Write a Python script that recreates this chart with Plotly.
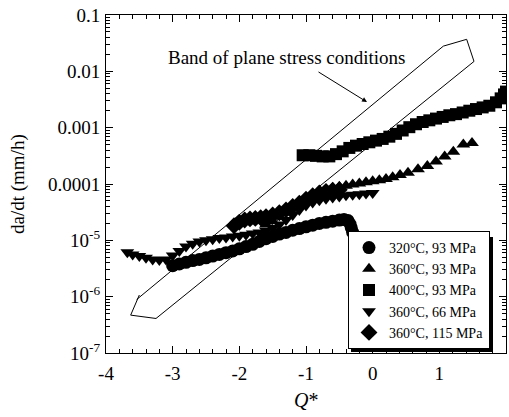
import plotly.graph_objects as go

# ---------------- data ----------------
q_320_93 = [-3.0, -2.9, -2.8, -2.7, -2.6, -2.5, -2.4, -2.3, -2.2, -2.1, -2.0, -1.9, -1.8, -1.7,
            -1.6, -1.5, -1.4, -1.3, -1.2, -1.1, -1.0, -0.9, -0.8, -0.7, -0.6, -0.5, -0.43,
            -0.37, -0.34, -0.32, -0.30]
r_320_93 = [3.55e-6, 3.80e-6, 4.07e-6, 4.37e-6, 4.57e-6, 4.90e-6, 5.25e-6, 5.62e-6, 6.03e-6,
            6.46e-6, 7.08e-6, 7.76e-6, 8.51e-6, 9.55e-6, 1.07e-5, 1.17e-5, 1.29e-5, 1.38e-5,
            1.51e-5, 1.62e-5, 1.74e-5, 1.86e-5, 2.00e-5, 2.09e-5, 2.19e-5, 2.29e-5, 2.34e-5,
            2.24e-5, 1.95e-5, 1.66e-5, 1.38e-5]

q_360_93 = [-1.6, -1.5, -1.4, -1.3, -1.2, -1.1, -1.0, -0.9, -0.8, -0.7, -0.6, -0.5, -0.4, -0.3,
            -0.2, -0.1, 0.0, 0.1, 0.2, 0.3, 0.41, 0.53, 0.68, 0.82, 0.95, 1.08, 1.21, 1.36, 1.49]
r_360_93 = [1.91e-5, 2.19e-5, 2.63e-5, 3.16e-5, 3.80e-5, 4.68e-5, 5.62e-5, 6.61e-5, 7.41e-5,
            7.94e-5, 8.51e-5, 8.91e-5, 9.33e-5, 9.77e-5, 1.02e-4, 1.07e-4, 1.12e-4, 1.17e-4,
            1.23e-4, 1.32e-4, 1.45e-4, 1.58e-4, 1.82e-4, 2.09e-4, 2.51e-4, 3.09e-4, 3.72e-4,
            5.01e-4, 5.37e-4]

q_400_93 = [-1.05, -0.95, -0.85, -0.75, -0.65, -0.55, -0.45, -0.35, -0.25, -0.15, -0.05, 0.05,
            0.15, 0.25, 0.35, 0.45, 0.55, 0.65, 0.75, 0.85, 0.95, 1.05, 1.15, 1.25, 1.35, 1.45,
            1.55, 1.65, 1.75, 1.85, 1.92, 1.97, 2.0]
r_400_93 = [3.24e-4, 3.24e-4, 3.16e-4, 3.09e-4, 3.09e-4, 3.39e-4, 3.80e-4, 4.37e-4, 4.79e-4,
            5.13e-4, 5.50e-4, 5.89e-4, 6.31e-4, 6.92e-4, 7.76e-4, 8.91e-4, 1.02e-3, 1.15e-3,
            1.26e-3, 1.35e-3, 1.45e-3, 1.55e-3, 1.66e-3, 1.74e-3, 1.86e-3, 2.00e-3, 2.14e-3,
            2.29e-3, 2.45e-3, 2.82e-3, 3.31e-3, 3.89e-3, 4.37e-3]

q_360_66 = [-3.68, -3.6, -3.5, -3.4, -3.3, -3.2, -3.1, -3.0, -2.9, -2.8, -2.7, -2.6, -2.5, -2.4,
            -2.3, -2.2, -2.1, -2.0, -1.9, -1.8, -1.7, -1.6, -1.5, -1.4, -1.3, -1.2, -1.1, -1.0,
            -0.9, -0.8, -0.7, -0.6, -0.5, -0.4, -0.3, -0.2, -0.1, 0.0]
r_360_66 = [6.17e-6, 5.62e-6, 5.25e-6, 4.90e-6, 4.57e-6, 4.47e-6, 4.57e-6, 5.37e-6, 6.46e-6,
            7.76e-6, 8.71e-6, 9.55e-6, 1.00e-5, 1.05e-5, 1.10e-5, 1.12e-5, 1.17e-5, 1.20e-5,
            1.26e-5, 1.32e-5, 1.38e-5, 1.48e-5, 1.66e-5, 1.91e-5, 2.29e-5, 2.82e-5, 3.47e-5,
            4.17e-5, 4.68e-5, 5.13e-5, 5.50e-5, 5.75e-5, 6.03e-5, 6.31e-5, 6.46e-5, 6.61e-5,
            6.76e-5, 6.92e-5]

q_360_115 = [-2.08, -2.0, -1.92, -1.84, -1.76, -1.68, -1.6, -1.5, -1.4, -1.3, -1.2, -1.1, -1.0,
             -0.9, -0.8, -0.7, -0.6, -0.5]
r_360_115 = [1.82e-5, 2.09e-5, 2.29e-5, 2.40e-5, 2.45e-5, 2.51e-5, 2.63e-5, 2.82e-5, 3.09e-5,
             3.47e-5, 3.98e-5, 4.57e-5, 5.37e-5, 6.17e-5, 6.92e-5, 7.41e-5, 7.76e-5, 7.94e-5]

band_q = [-3.54, 1.06, 1.41, 1.52, -3.25, -3.63, -3.50]
band_r = [8.9e-7, 2.8e-2, 3.7e-2, 1.5e-2, 4.1e-7, 4.7e-7, 1.07e-6]

series_names = ["320°C, 93 MPa", "360°C, 93 MPa", "400°C, 93 MPa", "360°C, 66 MPa", "360°C, 115 MPa"]
x_ticks = [-4, -3, -2, -1, 0, 1, 2]
x_ticktext = ["-4", "-3", "-2", "-1", "0", "1", "2"]
y_ticks = [1e-7, 1e-6, 1e-5, 1e-4, 1e-3, 1e-2, 1e-1]
y_ticktext = ["10<sup>-7</sup>", "10<sup>-6</sup>", "10<sup>-5</sup>", "0.0001", "0.001", "0.01", "0.1"]

# ---------------- figure ----------------
FONT = "Liberation Serif"
W, H = 509, 417
L, R, T, B = 106, 3, 15, 64
PW, PH = W - L - R, H - T - B

def px_to_paper(px, py):
    return (px - L) / PW, (H - B - py) / PH

fig = go.Figure()
fig.add_trace(go.Scatter(x=band_q, y=band_r, mode="lines", line=dict(color="black", width=1),
                         showlegend=False, hoverinfo="skip"))

specs = [
    (q_320_93, r_320_93, "circle", 13),
    (q_360_93, r_360_93, "triangle-up", 12),
    (q_400_93, r_400_93, "square", 12),
    (q_360_66, r_360_66, "triangle-down", 12),
    (q_360_115, r_360_115, "diamond", 13),
]
for name, (xs, ys, sym, sz) in zip(series_names, specs):
    fig.add_trace(go.Scatter(x=xs, y=ys, mode="markers", name=name,
                             marker=dict(symbol=sym, size=sz, color="black",
                                         line=dict(width=0))))

minor_y = [m * 10.0 ** e for e in range(-7, -1) for m in range(2, 10)]

axis_common = dict(showline=True, linecolor="black", linewidth=1, mirror="allticks",
                   ticks="inside", ticklen=7, tickwidth=1, tickcolor="black",
                   showgrid=False, zeroline=False,
                   tickfont=dict(family=FONT, size=19, color="black"))

fig.update_xaxes(range=[-4, 2], tickvals=x_ticks, ticktext=x_ticktext,
                 minor=dict(ticks="inside", ticklen=4, dtick=0.2, tick0=0, tickcolor="black",
                            showgrid=False),
                 ticklabelstandoff=3, **axis_common)
fig.update_yaxes(type="log", range=[-7, -1], tickvals=y_ticks, ticktext=y_ticktext,
                 minor=dict(ticks="inside", ticklen=4, tickvals=minor_y, tickcolor="black",
                            showgrid=False),
                 ticklabelstandoff=1, **axis_common)

# legend box position (pixels in reference)
lx, ly = px_to_paper(490, 349)

fig.update_layout(
    width=W, height=H,
    margin=dict(l=L, r=R, t=T, b=B, autoexpand=False),
    paper_bgcolor="white", plot_bgcolor="white",
    font=dict(family=FONT, color="black"),
    showlegend=True,
    legend=dict(x=lx, y=ly, xanchor="right", yanchor="bottom",
                bgcolor="white", bordercolor="black", borderwidth=1,
                font=dict(family=FONT, size=14, color="black"),
                itemsizing="trace"),
)

# legend shadow (offset 3 px right/down of the legend box)
sx0, sy0 = px_to_paper(490 - 142 + 3, 349 + 3)
sx1, sy1 = px_to_paper(490 + 3, 349 - 115 + 3)
fig.add_shape(type="rect", xref="paper", yref="paper", x0=sx0, x1=sx1, y0=sy0, y1=sy1,
              fillcolor="black", line=dict(width=0), layer="above")

# annotations
fig.add_annotation(x=-1.3, y=-1.746, xref="x", yref="y", text="Band of plane stress conditions",
                   showarrow=False, xanchor="center", yanchor="middle",
                   font=dict(family=FONT, size=19, color="black"))
fig.add_annotation(x=-0.085, y=-2.545, xref="x", yref="y", ax=-0.835, ay=-1.995,
                   axref="x", ayref="y", text="", showarrow=True, arrowhead=2,
                   arrowsize=1, arrowwidth=1, arrowcolor="black")
tx, ty = px_to_paper(306, 400)
fig.add_annotation(x=0.5, y=ty, xref="paper", yref="paper", text="<i>Q</i>*",
                   showarrow=False, xanchor="center", yanchor="middle",
                   font=dict(family=FONT, size=20, color="black"))
yx, yy = px_to_paper(18, 184)
fig.add_annotation(x=yx, y=0.5, xref="paper", yref="paper", text="da/dt (mm/h)",
                   textangle=-90, showarrow=False, xanchor="center", yanchor="middle",
                   font=dict(family=FONT, size=19, color="black"))

fig.write_html("out.html")
